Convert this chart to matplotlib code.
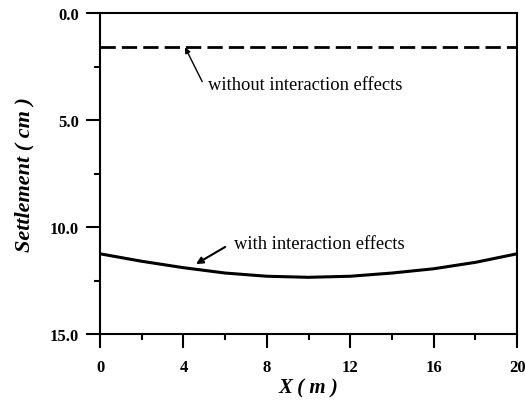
import matplotlib
matplotlib.use("Agg")
import matplotlib.pyplot as plt
from matplotlib.ticker import MultipleLocator, FormatStrFormatter

# settlement along the raft
x = [0, 2, 4, 6, 8, 10, 12, 14, 16, 18, 20]
with_inter = [11.25, 11.6, 11.9, 12.15, 12.3, 12.35, 12.3, 12.15, 11.95, 11.65, 11.25]
without_inter = [1.6] * len(x)

plt.rcParams['font.family'] = ['Liberation Serif', 'DejaVu Serif']

fig = plt.figure(figsize=(5.25, 4.02), dpi=100)
ax = fig.add_axes([0.1905, 0.1667, 0.7945, 0.798])

ax.plot(x, without_inter, color='k', lw=2, dashes=(5.5, 2.2))
ax.plot(x, with_inter, color='k', lw=2.2)

ax.set_xlim(0, 20)
ax.set_ylim(15, 0)

ax.xaxis.set_major_locator(MultipleLocator(4))
ax.xaxis.set_minor_locator(MultipleLocator(2))
ax.yaxis.set_major_locator(MultipleLocator(5))
ax.yaxis.set_minor_locator(MultipleLocator(2.5))
ax.yaxis.set_major_formatter(FormatStrFormatter('%.1f'))

ax.tick_params(which='major', direction='out', length=10, width=1.5,
               labelsize=12)
ax.tick_params(axis='x', which='major', pad=8)
ax.tick_params(axis='y', which='major', pad=5)
ax.tick_params(which='minor', direction='out', length=4.5, width=1.5)
for lab in ax.get_xticklabels() + ax.get_yticklabels():
    lab.set_fontweight('bold')
for s in ax.spines.values():
    s.set_linewidth(1.5)

ax.set_xlabel('X ( m )', fontsize=15, fontweight='bold', style='italic', labelpad=2)
ax.set_ylabel('Settlement ( cm )', fontsize=16, fontweight='bold', style='italic', labelpad=11)

# labels with their arrows
ax.annotate('', xy=(4.08, 1.6), xytext=(4.9, 3.2),
            arrowprops=dict(arrowstyle='-|>', color='k', lw=1, shrinkA=0, shrinkB=0,
                            mutation_scale=8))
ax.text(5.18, 3.55, 'without interaction effects', fontsize=13.3, va='baseline', ha='left')

ax.annotate('', xy=(4.6, 11.73), xytext=(6.0, 10.93),
            arrowprops=dict(arrowstyle='-|>', color='k', lw=1.5, shrinkA=0, shrinkB=0,
                            mutation_scale=10))
ax.text(6.43, 10.98, 'with interaction effects', fontsize=13.3, va='baseline', ha='left')

fig.savefig('out.png', dpi=100)
